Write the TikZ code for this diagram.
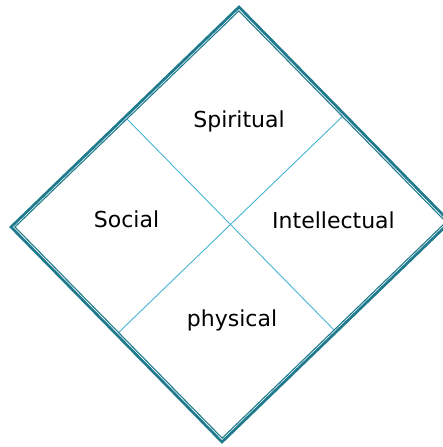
\documentclass[tikz,border=0pt]{standalone}
\usepackage{fontspec}
\setmainfont{DejaVu Sans}
\usetikzlibrary{calc}
\definecolor{frame}{RGB}{30,122,140}
\definecolor{divider}{RGB}{70,180,210}
\tikzset{
  outerframe/.style={draw=frame, line width=2.7pt, line join=miter},
  innerframe/.style={draw=frame, line width=1.1pt, line join=miter},
  dividerline/.style={draw=divider, line width=0.9pt},
  label/.style={font=\fontsize{22}{26}\selectfont, anchor=base, inner sep=0pt}
}
\begin{document}
\begin{tikzpicture}[x=1pt,y=-1pt]
\useasboundingbox (0,0) rectangle (443,447);
\clip (0,0) rectangle (443,447);
\coordinate (T) at (239,7);
\coordinate (L) at (11,227);
\coordinate (B) at (222,442);
\coordinate (R) at (450,222);
\coordinate (C) at (230.5,224.5);
% inner frame vertices (scaled toward centre)
\coordinate (Ti) at ($(C)!0.982!(T)$);
\coordinate (Li) at ($(C)!0.982!(L)$);
\coordinate (Bi) at ($(C)!0.982!(B)$);
\coordinate (Ri) at ($(C)!0.982!(R)$);
% edge midpoints
\coordinate (mTL) at ($(Ti)!0.5!(Li)$);
\coordinate (mBR) at ($(Bi)!0.5!(Ri)$);
\coordinate (mTR) at ($(Ti)!0.5!(Ri)$);
\coordinate (mBL) at ($(Bi)!0.5!(Li)$);
\draw[dividerline] (mTL) -- (mBR);
\draw[dividerline] (mTR) -- (mBL);
\draw[outerframe] (T) -- (R) -- (B) -- (L) -- cycle;
\draw[innerframe] (Ti) -- (Ri) -- (Bi) -- (Li) -- cycle;
\node[label] (spiritual) at (239,127) {Spiritual};
\node[label] (social) at (126.5,227) {Social};
\node[label] (intellectual) at (333.5,228) {Intellectual};
\node[label] (physical) at (232,326) {physical};
\end{tikzpicture}
\end{document}
